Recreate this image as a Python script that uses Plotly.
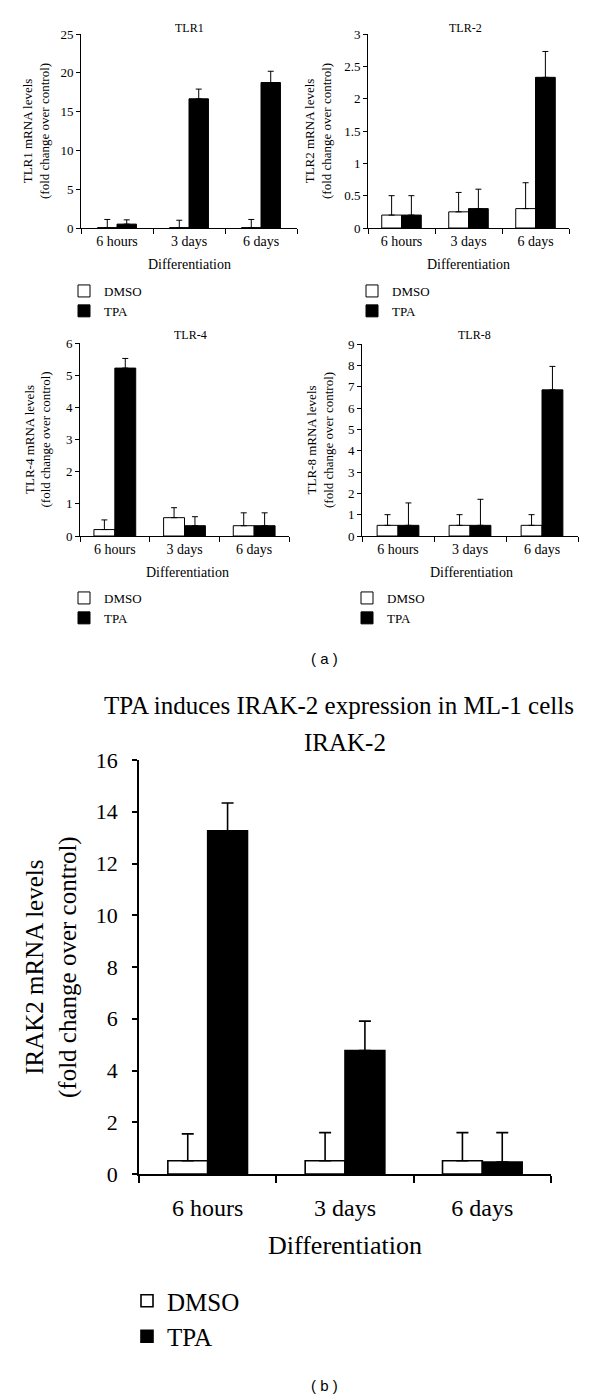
import plotly.graph_objects as go

# ---------------- data ----------------
categories = ["6 hours", "3 days", "6 days"]

tlr1_dmso = [0.05, 0.05, 0.05]
tlr1_dmso_err = [1.05, 0.95, 1.05]
tlr1_tpa = [0.5, 16.65, 18.75]
tlr1_tpa_err = [0.55, 1.25, 1.45]

tlr2_dmso = [0.2, 0.25, 0.3]
tlr2_dmso_err = [0.3, 0.3, 0.4]
tlr2_tpa = [0.2, 0.3, 2.33]
tlr2_tpa_err = [0.3, 0.3, 0.4]

tlr4_dmso = [0.2, 0.57, 0.32]
tlr4_dmso_err = [0.3, 0.31, 0.4]
tlr4_tpa = [5.22, 0.32, 0.32]
tlr4_tpa_err = [0.3, 0.28, 0.4]

tlr8_dmso = [0.5, 0.5, 0.5]
tlr8_dmso_err = [0.5, 0.5, 0.5]
tlr8_tpa = [0.5, 0.5, 6.85]
tlr8_tpa_err = [1.05, 1.22, 1.1]

irak2_dmso = [0.51, 0.51, 0.51]
irak2_dmso_err = [1.04, 1.09, 1.09]
irak2_tpa = [13.26, 4.77, 0.46]
irak2_tpa_err = [1.08, 1.14, 1.14]

series_names = ["DMSO", "TPA"]

# ---------------- layout helpers ----------------
W, H = 600, 1400
SERIF = "Liberation Serif"


def fx(p):
    return p / W


def fy(p):
    return 1 - p / H


panels = [
    dict(title="TLR1", ylab="TLR1 mRNA levels<br>(fold change over control)",
         dmso=tlr1_dmso, dmso_err=tlr1_dmso_err, tpa=tlr1_tpa, tpa_err=tlr1_tpa_err,
         ymax=25, dtick=5, xd=(81, 297), yd=(228, 34), bw=0.27,
         title_xy=(189, 28), title_fs=12, ylab_x=36, xlab_xy=(189, 264),
         leg=(64, 276), small=True),
    dict(title="TLR-2", ylab="TLR2 mRNA levels<br>(fold change over control)",
         dmso=tlr2_dmso, dmso_err=tlr2_dmso_err, tpa=tlr2_tpa, tpa_err=tlr2_tpa_err,
         ymax=3, dtick=0.5, xd=(368, 569), yd=(228, 34), bw=0.295,
         title_xy=(466, 28), title_fs=12, ylab_x=318, xlab_xy=(468, 264),
         leg=(352, 276), small=True),
    dict(title="TLR-4", ylab="TLR-4 mRNA levels<br>(fold change over control)",
         dmso=tlr4_dmso, dmso_err=tlr4_dmso_err, tpa=tlr4_tpa, tpa_err=tlr4_tpa_err,
         ymax=6, dtick=1, xd=(80, 289), yd=(536, 343), bw=0.30,
         title_xy=(190, 335), title_fs=12, ylab_x=37, xlab_xy=(187, 572),
         leg=(64, 583), small=True),
    dict(title="TLR-8", ylab="TLR-8 mRNA levels<br>(fold change over control)",
         dmso=tlr8_dmso, dmso_err=tlr8_dmso_err, tpa=tlr8_tpa, tpa_err=tlr8_tpa_err,
         ymax=9, dtick=1, xd=(362, 578), yd=(536, 344), bw=0.29,
         title_xy=(474, 335), title_fs=12, ylab_x=320, xlab_xy=(471, 572),
         leg=(347, 583), small=True),
    dict(title="IRAK-2", ylab="IRAK2 mRNA levels<br>(fold change over control)",
         dmso=irak2_dmso, dmso_err=irak2_dmso_err, tpa=irak2_tpa, tpa_err=irak2_tpa_err,
         ymax=16, dtick=2, xd=(139, 551), yd=(1174, 760), bw=0.29,
         title_xy=(345, 742), title_fs=25, ylab_x=51, xlab_xy=(345, 1245),
         leg=(127, 1278), small=False),
]

fig = go.Figure()
annotations = []
layout_extra = {}

for i, p in enumerate(panels):
    n = "" if i == 0 else str(i + 1)
    xa, ya = "x" + n, "y" + n
    legname = "legend" + n
    small = p["small"]
    lw = 1 if small else 1.6
    cap = 3 if small else 6
    tick_fs = 13 if small else 22
    xlab_fs = 14 if small else 24
    dif_fs = 14 if small else 26
    ylab_fs = 13 if small else 25
    leg_fs = 13 if small else 25
    bw = p["bw"]

    for name, vals, errs, color, off in [
        (series_names[0], p["dmso"], p["dmso_err"], "white", -bw),
        (series_names[1], p["tpa"], p["tpa_err"], "black", 0.0),
    ]:
        fig.add_trace(go.Bar(
            x=categories, y=vals, name=name, xaxis=xa, yaxis=ya,
            width=bw, offset=off,
            marker=dict(color=color, line=dict(color="black", width=lw)),
            error_y=dict(type="data", symmetric=False, array=errs,
                         arrayminus=[0] * len(errs), color="black",
                         thickness=lw, width=cap),
            legend=legname, showlegend=True,
        ))

    layout_extra["xaxis" + n] = dict(
        domain=[fx(p["xd"][0]), fx(p["xd"][1])], anchor=ya,
        type="category", range=[-0.5, 2.5], showline=True, automargin=False,
        linecolor="black", linewidth=lw, ticks="outside", tickson="boundaries",
        ticklen=5 if small else 7, tickwidth=lw, tickcolor="black",
        ticklabelstandoff=0 if small else 11,
        showgrid=False, zeroline=False, fixedrange=True,
        tickfont=dict(family=SERIF, size=xlab_fs, color="black"),
    )
    layout_extra["yaxis" + n] = dict(
        domain=[fy(p["yd"][0]), fy(p["yd"][1])], anchor=xa,
        range=[0, p["ymax"]], dtick=p["dtick"], tick0=0, showline=True,
        automargin=False,
        linecolor="black", linewidth=lw, ticks="outside",
        ticklen=4 if small else 5, tickwidth=lw, tickcolor="black",
        ticklabelstandoff=0 if small else 10,
        showgrid=False, zeroline=False, fixedrange=True,
        tickfont=dict(family=SERIF, size=tick_fs, color="black"),
    )
    layout_extra[legname] = dict(
        x=fx(p["leg"][0]), y=fy(p["leg"][1]), xanchor="left", yanchor="top",
        orientation="v", bgcolor="rgba(0,0,0,0)", borderwidth=0,
        font=dict(family=SERIF, size=leg_fs, color="black"),
        tracegroupgap=0, itemclick=False, itemdoubleclick=False,
    )

    # panel title
    annotations.append(dict(
        text=p["title"], x=fx(p["title_xy"][0]), y=fy(p["title_xy"][1]),
        xref="paper", yref="paper", showarrow=False, xanchor="center",
        yanchor="middle",
        font=dict(family=SERIF, size=p["title_fs"], color="black"),
    ))
    # y axis title
    annotations.append(dict(
        text=p["ylab"], x=fx(p["ylab_x"]),
        y=fy((p["yd"][0] + p["yd"][1]) / 2), xref="paper", yref="paper",
        showarrow=False, textangle=-90, xanchor="center", yanchor="middle",
        font=dict(family=SERIF, size=ylab_fs, color="black"),
    ))
    # x axis title
    annotations.append(dict(
        text="Differentiation", x=fx(p["xlab_xy"][0]),
        y=fy(p["xlab_xy"][1]), xref="paper", yref="paper", showarrow=False,
        xanchor="center", yanchor="middle",
        font=dict(family=SERIF, size=dif_fs, color="black"),
    ))

# figure-level labels
annotations.append(dict(
    text="TPA induces IRAK-2 expression in ML-1 cells", x=fx(339), y=fy(705),
    xref="paper", yref="paper", showarrow=False, xanchor="center",
    yanchor="middle", font=dict(family=SERIF, size=25, color="black"),
))
for lab, yy in [("( a )", 658), ("( b )", 1385)]:
    annotations.append(dict(
        text=lab, x=fx(324), y=fy(yy), xref="paper", yref="paper",
        showarrow=False, xanchor="center", yanchor="middle",
        font=dict(family="Liberation Sans", size=15, color="black"),
    ))

fig.update_layout(
    template="none",
    width=W, height=H, margin=dict(l=0, r=0, t=0, b=0, pad=0, autoexpand=False),
    paper_bgcolor="white", plot_bgcolor="white",
    barmode="overlay", annotations=annotations,
    font=dict(family=SERIF, color="black"),
    **layout_extra,
)

fig.write_html("out.html", config={"displayModeBar": False},
               post_script="document.body.style.margin='0';")
